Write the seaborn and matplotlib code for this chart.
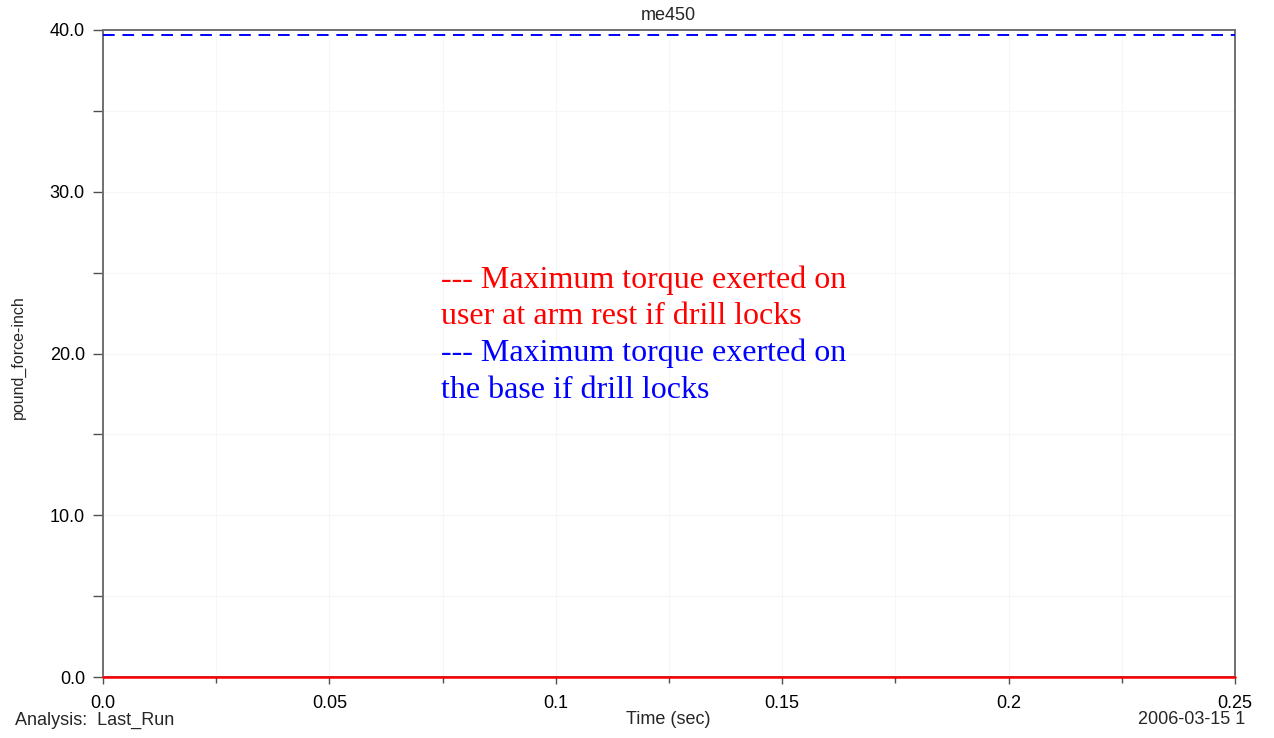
import matplotlib
matplotlib.use("Agg")
import matplotlib.pyplot as plt
from matplotlib.ticker import MultipleLocator, FixedLocator, FixedFormatter
import seaborn as sns
import pandas as pd

# ---- data ----
time_sec = [0.0, 0.25]
arm_rest_torque = [0.0, 0.0]      # red solid
base_torque = [39.66, 39.66]      # blue dashed
x_ticks = [0.0, 0.05, 0.1, 0.15, 0.2, 0.25]
x_tick_labels = ["0.0", "0.05", "0.1", "0.15", "0.2", "0.25"]
y_ticks = [0.0, 10.0, 20.0, 30.0, 40.0]
y_tick_labels = ["0.0", "10.0", "20.0", "30.0", "40.0"]
title = "me450"
legend_red = ["--- Maximum torque exerted on", "user at arm rest if drill locks"]
legend_blue = ["--- Maximum torque exerted on", "the base if drill locks"]

sns.set_style("white")
plt.rcParams["font.family"] = ["Liberation Sans", "DejaVu Sans"]

W, H = 1274, 738
fig = plt.figure(figsize=(W / 100, H / 100), dpi=100)
L, R, T, B = 103, 1235, 30, 677
ax = fig.add_axes([L / W, 1 - B / H, (R - L) / W, (B - T) / H])

df = pd.DataFrame({"t": time_sec, "red": arm_rest_torque, "blue": base_torque})
sns.lineplot(data=df, x="t", y="red", ax=ax, color="#ff0000", linewidth=1.8,
             zorder=5, clip_on=False)
sns.lineplot(data=df, x="t", y="blue", ax=ax, color="#0000ff", linewidth=1.4,
             linestyle=(0, (6, 4)), zorder=5)

ax.set_xlim(0, 0.25)
ax.set_ylim(0, 40)
ax.xaxis.set_major_locator(FixedLocator(x_ticks))
ax.xaxis.set_major_formatter(FixedFormatter(x_tick_labels))
ax.yaxis.set_major_locator(FixedLocator(y_ticks))
ax.yaxis.set_major_formatter(FixedFormatter(y_tick_labels))
ax.xaxis.set_minor_locator(MultipleLocator(0.025))
ax.yaxis.set_minor_locator(MultipleLocator(5))

ax.grid(True, which="both", color="#f6f6f6", linewidth=0.8)
ax.set_axisbelow(True)
for s in ax.spines.values():
    s.set_color("#707070")
    s.set_linewidth(1.4)
    s.set_visible(True)

fs = 13
ax.tick_params(axis="both", which="both", direction="out", color="#505050",
               width=1.0, labelsize=fs, labelcolor="black",
               bottom=True, left=True, top=False, right=False)
ax.tick_params(axis="y", which="both", length=7, pad=6)
ax.tick_params(axis="x", which="major", length=5, pad=8)
ax.tick_params(axis="x", which="minor", length=4)

ax.set_xlabel("")
ax.set_ylabel("")

fig.text(668 / W, 1 - 15 / H, title, ha="center", va="center", fontsize=fs)
fig.text(668 / W, 1 - 720 / H, "Time (sec)", ha="center", va="center", fontsize=fs)
fig.text(15 / W, 1 - 720 / H, "Analysis:  Last_Run", ha="left", va="center", fontsize=fs)
fig.text(1138 / W, 1 - 720 / H, "2006-03-15 1", ha="left", va="center", fontsize=fs)
fig.text(18 / W, 1 - 357 / H, "pound_force-inch", ha="center", va="center",
         rotation=90, fontsize=11.5)

serif = ["Liberation Serif", "DejaVu Serif"]
for line, yp in zip(legend_red, [280, 316]):
    fig.text(441 / W, 1 - yp / H, line, ha="left", va="center", color="#ff0000",
             fontsize=23, family=serif)
for line, yp in zip(legend_blue, [353, 390]):
    fig.text(441 / W, 1 - yp / H, line, ha="left", va="center", color="#0000ff",
             fontsize=23, family=serif)

fig.savefig("out.png", dpi=100, facecolor="white")
